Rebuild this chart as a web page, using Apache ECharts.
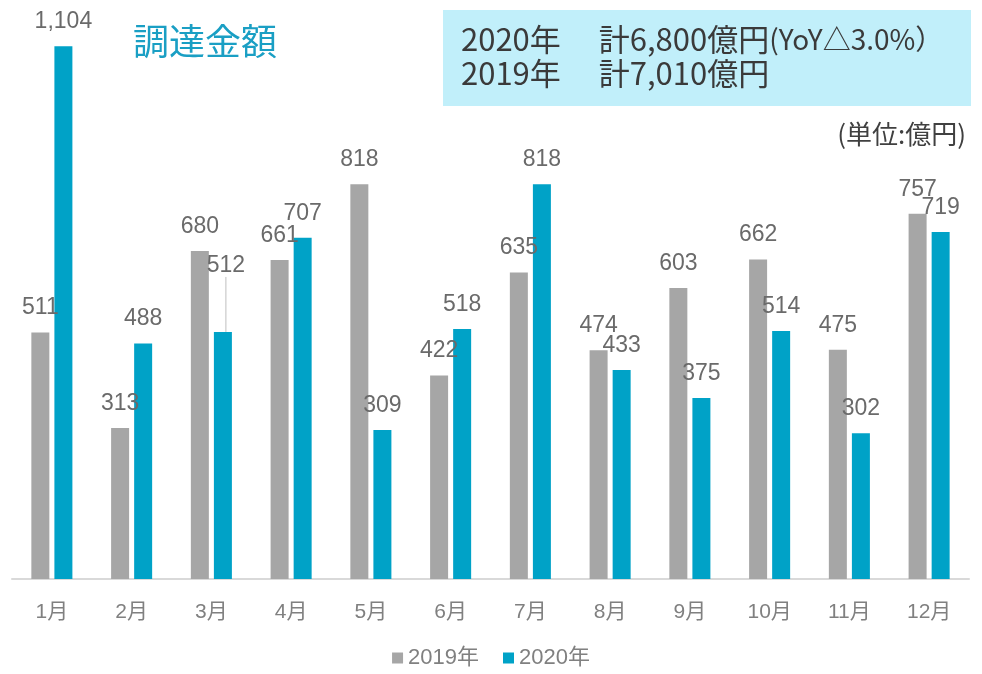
<!DOCTYPE html>
<html>
<head>
<meta charset="utf-8">
<script src="https://cdn.jsdelivr.net/npm/echarts@6/dist/echarts.min.js"></script>
<style>
  html, body { margin: 0; padding: 0; background: #fff; }
  #chart { width: 982px; height: 674px; }
</style>
</head>
<body>
<div id="chart"></div>
<script>
const months = ['1月', '2月', '3月', '4月', '5月', '6月', '7月', '8月', '9月', '10月', '11月', '12月']
const y2019 = [511, 313, 680, 661, 818, 422, 635, 474, 603, 662, 475, 757]
const y2020 = [1104, 488, 512, 707, 309, 518, 818, 433, 375, 514, 302, 719]

const FONT = '"Liberation Sans", "Noto Sans CJK JP", sans-serif'
const JP = '"Noto Sans CJK JP", sans-serif'
const GRAY = '#a6a6a6'
const TEAL = '#00a2c7'

const chart = echarts.init(document.getElementById('chart'), null, { renderer: 'canvas' })

const barLabel = {
  show: true,
  position: 'top',
  distance: 13,
  color: '#6a6a6a',
  fontSize: 23,
  fontFamily: FONT,
  formatter: p => p.value.toLocaleString('en-US')
}

// only the March 2020 label is lifted with a leader line
const data2020 = y2020.map((v, i) => i === 2
  ? { value: v, labelLine: { show: true, lineStyle: { color: '#bfbfbf', width: 1 } } }
  : v)

chart.setOption({
  animation: false,
  grid: { left: 12, right: 13, top: 0, bottom: 95 },
  legend: {
    bottom: 0,
    left: 'center',
    itemWidth: 11,
    itemHeight: 11,
    itemGap: 24,
    icon: 'rect',
    textStyle: { color: '#808080', fontSize: 22, fontFamily: FONT },
    data: ['2019年', '2020年']
  },
  xAxis: {
    type: 'category',
    data: months,
    axisLine: { lineStyle: { color: '#d9d9d9', width: 2 } },
    axisTick: { show: false },
    axisLabel: { color: '#808080', fontSize: 21, fontFamily: FONT, margin: 23 }
  },
  yAxis: {
    type: 'value',
    min: 0,
    max: 1200,
    show: false,
    splitLine: { show: false }
  },
  series: [
    {
      name: '2019年',
      type: 'bar',
      data: y2019,
      barWidth: 18,
      barGap: '28%',
      itemStyle: { color: GRAY },
      label: barLabel
    },
    {
      name: '2020年',
      type: 'bar',
      data: data2020,
      barWidth: 18,
      itemStyle: { color: TEAL },
      label: barLabel,
      labelLine: { show: false },
      labelLayout: p => (p.dataIndex === 2 ? { dx: 3, dy: -42 } : {})
    }
  ],
  graphic: [
    {
      type: 'text',
      left: 133,
      top: 23,
      style: { text: '調達金額', fill: '#1a9fc4', fontSize: 36, fontFamily: JP }
    },
    {
      type: 'rect',
      shape: { x: 443, y: 10, width: 528, height: 96 },
      style: { fill: '#c1effa' }
    },
    {
      type: 'text',
      left: 461,
      top: 24,
      style: {
        text: '{a|2020年　 計6,800億円}{b|(YoY△3.0%）}',
        rich: {
          a: { fill: '#3a3a3a', fontSize: 31, fontFamily: JP },
          b: { fill: '#3a3a3a', fontSize: 28, fontFamily: JP }
        }
      }
    },
    {
      type: 'text',
      left: 461,
      top: 58,
      style: { text: '2019年　 計7,010億円', fill: '#3a3a3a', fontSize: 31, fontFamily: JP }
    },
    {
      type: 'text',
      right: 16,
      top: 121,
      style: { text: '(単位:億円)', fill: '#404040', fontSize: 26, fontFamily: JP }
    }
  ]
})
</script>
</body>
</html>
